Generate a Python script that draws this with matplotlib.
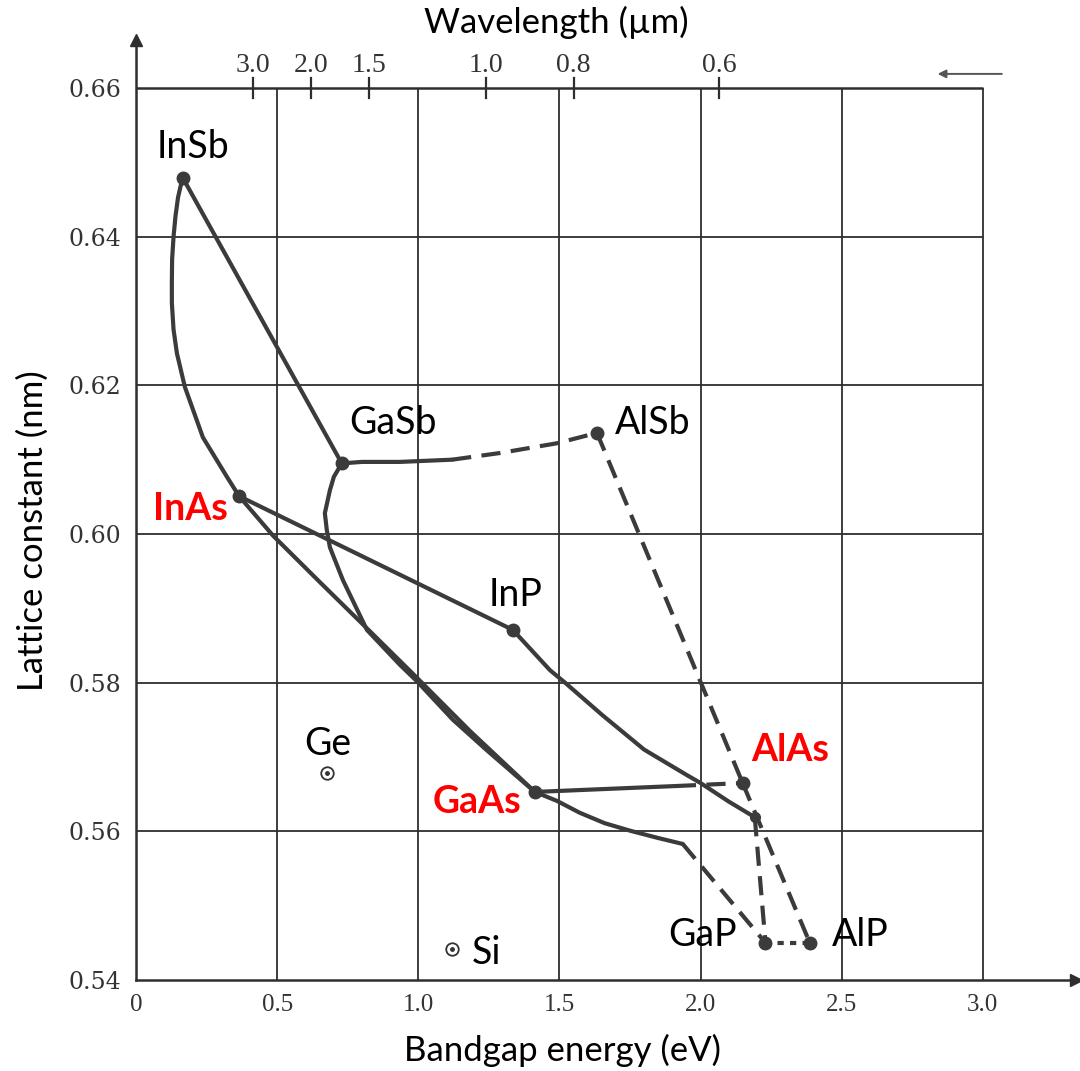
import matplotlib
import matplotlib.pyplot as plt

matplotlib.use('Agg')

# compounds: bandgap (eV), lattice constant (nm)
compounds = ["InSb", "GaSb", "AlSb", "InAs", "InP", "GaAs", "AlAs", "GaP", "AlP"]
comp_e = [0.166, 0.729, 1.633, 0.365, 1.335, 1.413, 2.149, 2.23, 2.387]
comp_a = [0.6479, 0.6095, 0.6136, 0.6051, 0.5871, 0.5653, 0.5665, 0.5450, 0.5450]
red_labels = ["InAs", "GaAs", "AlAs"]

elements = ["Ge", "Si"]
elem_e = [0.676, 1.119]
elem_a = [0.5678, 0.5442]

# kink where InGaP turns indirect
kink_e = [2.192]
kink_a = [0.5619]

# alloy curves
insb_gasb_e = [0.166, 0.729]
insb_gasb_a = [0.6479, 0.6095]

insb_inas_e = [0.166, 0.158, 0.149, 0.140, 0.133, 0.128, 0.127, 0.127, 0.133,
               0.145, 0.173, 0.237, 0.322, 0.365]
insb_inas_a = [0.6479, 0.6468, 0.6453, 0.6428, 0.6400, 0.6370, 0.6340, 0.6311, 0.6275,
               0.6243, 0.6198, 0.6130, 0.6077, 0.6051]

gasb_alsb_e = [0.729, 0.80, 0.935, 1.12]
gasb_alsb_a = [0.6095, 0.6097, 0.6097, 0.6100]
gasb_alsb_ind_e = [1.12, 1.29, 1.49, 1.633]
gasb_alsb_ind_a = [0.6100, 0.6109, 0.6122, 0.6136]

alsb_alas_e = [1.633, 2.149]
alsb_alas_a = [0.6136, 0.5665]

inas_inp_e = [0.365, 1.335]
inas_inp_a = [0.6051, 0.5871]

inas_gaas_e = [0.365, 0.485, 0.652, 0.829, 0.981, 1.183, 1.413]
inas_gaas_a = [0.6051, 0.5998, 0.5935, 0.5869, 0.5812, 0.5735, 0.5653]

gasb_gaas_e = [0.729, 0.701, 0.687, 0.669, 0.676, 0.687, 0.733, 0.818, 0.935,
               0.995, 1.123, 1.243, 1.413]
gasb_gaas_a = [0.6095, 0.6077, 0.6059, 0.6028, 0.6005, 0.5982, 0.5938, 0.5871, 0.5824,
               0.5802, 0.5750, 0.5709, 0.5653]

gaas_gap_e = [1.413, 1.491, 1.572, 1.66, 1.749, 1.85, 1.937]
gaas_gap_a = [0.5653, 0.5641, 0.5625, 0.5611, 0.5601, 0.5591, 0.5583]
gaas_gap_ind_e = [1.937, 2.23]
gaas_gap_ind_a = [0.5583, 0.5450]

gaas_alas_e = [1.413, 1.916]
gaas_alas_a = [0.5653, 0.5661]
gaas_alas_ind_e = [1.916, 2.149]
gaas_alas_ind_a = [0.5661, 0.5665]

inp_gap_e = [1.335, 1.466, 1.52, 1.65, 1.80, 1.95, 2.00, 2.10, 2.192]
inp_gap_a = [0.5871, 0.5817, 0.5800, 0.5757, 0.5710, 0.5676, 0.5665, 0.5640, 0.5619]
inp_gap_ind_e = [2.192, 2.23]
inp_gap_ind_a = [0.5619, 0.5450]

alas_alp_e = [2.149, 2.387]
alas_alp_a = [0.5665, 0.5450]

gap_alp_e = [2.23, 2.387]
gap_alp_a = [0.5450, 0.5450]

# axes
x_ticks = [0, 0.5, 1.0, 1.5, 2.0, 2.5, 3.0]
x_ticklabels = ["0", "0.5", "1.0", "1.5", "2.0", "2.5", "3.0"]
y_ticks = [0.54, 0.56, 0.58, 0.60, 0.62, 0.64, 0.66]
y_ticklabels = ["0.54", "0.56", "0.58", "0.60", "0.62", "0.64", "0.66"]
wavelengths = [3.0, 2.0, 1.5, 1.0, 0.8, 0.6]
wavelength_labels = ["3.0", "2.0", "1.5", "1.0", "0.8", "0.6"]

label_font = ['Lato', 'DejaVu Sans']
ink = '#3b3b3b'
grid_ink = '#2e2e2e'

fig = plt.figure(figsize=(10.8, 10.71), dpi=100)
ax = fig.add_axes([136 / 1080, 91 / 1071, 940 / 1080, 940 / 1071])
ax.set_xlim(0, 3.33)
ax.set_ylim(0.54, 0.66646)

# grid
ax.vlines(x_ticks[1:], 0.54, 0.66, color=grid_ink, lw=1.3, zorder=1)
ax.hlines(y_ticks[1:-1], 0, 3.0, color=grid_ink, lw=1.3, zorder=1)
ax.hlines(0.66, 0, 3.0, color=grid_ink, lw=1.8, zorder=1)

# spines with arrows
for s in ['top', 'right']:
    ax.spines[s].set_visible(False)
for s in ['left', 'bottom']:
    ax.spines[s].set_linewidth(1.8)
    ax.spines[s].set_color(grid_ink)
ax.plot(0, 1, '^', color=grid_ink, ms=9, transform=ax.transAxes, clip_on=False)
ax.plot(1, 0, '>', color=grid_ink, ms=9, transform=ax.transAxes, clip_on=False)

ax.set_xticks(x_ticks)
ax.set_xticklabels(x_ticklabels, family='Liberation Serif', fontsize=18, color='#333333')
ax.set_yticks(y_ticks)
ax.set_yticklabels(y_ticklabels, family='DejaVu Serif', fontsize=17, color='#333333')
ax.tick_params(axis='x', length=0, pad=10)
ax.tick_params(axis='y', length=0, pad=10.5)

# wavelength scale on the 0.66 line
tick_h = 0.0013
for lam, lab in zip(wavelengths, wavelength_labels):
    e = 1.24 / lam
    ax.plot([e, e], [0.66 - tick_h, 0.66 + tick_h], color=grid_ink, lw=1.6, clip_on=False)
    ax.annotate(lab, (e, 0.66), xytext=(0, 7), textcoords='offset points',
                ha='center', va='bottom', family='Liberation Serif', fontsize=20,
                color='#333333')
ax.annotate('', xy=(2.83, 0.6619), xytext=(3.077, 0.6619),
            arrowprops=dict(arrowstyle='-|>', color='#555555', lw=1.4,
                            mutation_scale=12), annotation_clip=False)

# alloy curves
solid = dict(color=ink, lw=3.0, solid_capstyle='round', solid_joinstyle='round', zorder=3)
dashed = dict(color=ink, lw=3.0, dashes=(4.6, 2.5), zorder=3)
dotted = dict(color=ink, lw=3.0, dashes=(1.5, 1.5), zorder=3)

ax.plot(insb_gasb_e, insb_gasb_a, **solid)
ax.plot(insb_inas_e, insb_inas_a, **solid)
ax.plot(gasb_alsb_e, gasb_alsb_a, **solid)
ax.plot(gasb_alsb_ind_e, gasb_alsb_ind_a, **dashed)
ax.plot(alsb_alas_e, alsb_alas_a, **dashed)
ax.plot(inas_inp_e, inas_inp_a, **solid)
ax.plot(inas_gaas_e, inas_gaas_a, **solid)
ax.plot(gasb_gaas_e, gasb_gaas_a, **solid)
ax.plot(gaas_gap_e, gaas_gap_a, **solid)
ax.plot(gaas_gap_ind_e, gaas_gap_ind_a, **dashed)
ax.plot(gaas_alas_e, gaas_alas_a, **solid)
ax.plot(gaas_alas_ind_e, gaas_alas_ind_a, **dashed)
ax.plot(inp_gap_e, inp_gap_a, **solid)
ax.plot(inp_gap_ind_e, inp_gap_ind_a, **dashed)
ax.plot(alas_alp_e, alas_alp_a, **dashed)
ax.plot(gap_alp_e, gap_alp_a, **dotted)

ax.plot(comp_e, comp_a, 'o', color=ink, ms=9, zorder=4)
ax.plot(kink_e, kink_a, 'o', color=ink, ms=7, zorder=4)

# Ge and Si
ax.plot(elem_e, elem_a, 'o', mfc='white', mec='#333333', mew=1.3, ms=9, zorder=4)
ax.plot(elem_e, elem_a, 'o', color='#333333', ms=2.5, zorder=5)

# labels, offsets in points
offsets = {
    "InSb": (7, 22), "GaSb": (37, 29), "AlSb": (40, 7), "InAs": (-35, -9),
    "InP": (2, 25), "GaAs": (-42, -7), "AlAs": (34, 24), "GaP": (-45, 6),
    "AlP": (36, 6), "Ge": (1, 21), "Si": (25, -3),
}
for name, e, a in zip(compounds + elements, comp_e + elem_e, comp_a + elem_a):
    is_red = name in red_labels
    ax.annotate(name, (e, a), xytext=offsets[name], textcoords='offset points',
                ha='center', va='center', family=label_font, fontsize=27,
                color='#ff0000' if is_red else 'black',
                fontweight='bold' if is_red else 'normal', zorder=6)

fig.text(562 / 1080, 1 - 1050 / 1071, 'Bandgap energy (eV)', ha='center', va='center',
         family=label_font, fontsize=25)
fig.text(33 / 1080, 1 - 531 / 1071, 'Lattice constant (nm)', ha='center', va='center',
         rotation=90, family=label_font, fontsize=25)
fig.text(556 / 1080, 1 - 22 / 1071, 'Wavelength (\u00b5m)', ha='center', va='center',
         family=label_font, fontsize=25)

plt.savefig('out.png', dpi=100)
plt.close()
